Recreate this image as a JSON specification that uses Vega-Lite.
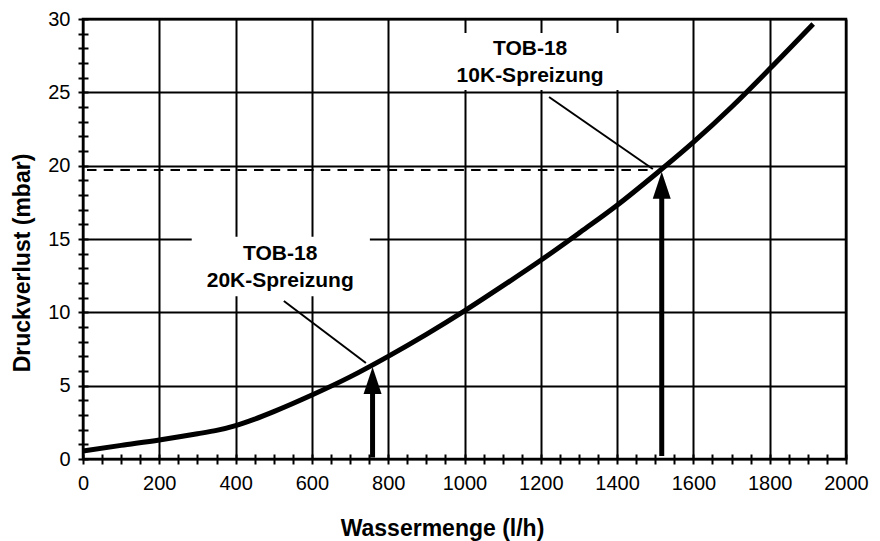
{
  "$schema": "https://vega.github.io/schema/vega-lite/v6.json",
  "width": 763,
  "height": 440,
  "autosize": "none",
  "padding": {"left": 83, "top": 19, "right": 34, "bottom": 82},
  "background": "white",
  "config": {
    "font": "Liberation Sans",
    "view": {"stroke": "black", "strokeWidth": 2.5}
  },
  "datasets": {
    "curve": [
      {"x": 0, "y": 0.55},
      {"x": 100, "y": 0.93},
      {"x": 200, "y": 1.3},
      {"x": 300, "y": 1.72},
      {"x": 350, "y": 1.95},
      {"x": 400, "y": 2.28},
      {"x": 450, "y": 2.72},
      {"x": 500, "y": 3.23},
      {"x": 600, "y": 4.36},
      {"x": 700, "y": 5.6},
      {"x": 800, "y": 7.0},
      {"x": 900, "y": 8.5},
      {"x": 1000, "y": 10.1},
      {"x": 1100, "y": 11.8},
      {"x": 1200, "y": 13.55},
      {"x": 1300, "y": 15.4},
      {"x": 1400, "y": 17.3},
      {"x": 1500, "y": 19.4},
      {"x": 1600, "y": 21.6},
      {"x": 1700, "y": 24.0},
      {"x": 1800, "y": 26.6},
      {"x": 1914, "y": 29.66}
    ],
    "ref": [{"x": 0, "x2": 1494, "y": 19.7}],
    "boxes": [
      {"x": 285, "x2": 752, "y": 11.1, "y2": 15.15},
      {"x": 938, "x2": 1410, "y": 25.16, "y2": 29.05}
    ],
    "labels": [
      {"t": "TOB-18", "x": 517, "y": 13.57},
      {"t": "20K-Spreizung", "x": 517, "y": 11.75},
      {"t": "TOB-18", "x": 1172, "y": 27.55},
      {"t": "10K-Spreizung", "x": 1172, "y": 25.7}
    ],
    "leaders": [
      {"x": 526.5, "y": 10.77, "x2": 741.6, "y2": 6.55},
      {"x": 1221.6, "y": 24.68, "x2": 1493.7, "y2": 19.77}
    ],
    "shafts": [
      {"x": 759, "y": 0.1, "y2": 5.0},
      {"x": 1517, "y": 0.2, "y2": 18.3}
    ],
    "heads": [
      {"x": 759, "y": 6.27},
      {"x": 1517, "y": 19.59}
    ]
  },
  "encoding": {
    "x": {
      "field": "x", "type": "quantitative",
      "scale": {"domain": [0, 2000], "nice": false},
      "axis": {
        "title": "Wassermenge (l/h)",
        "values": [0,50,100,150,200,250,300,350,400,450,500,550,600,650,700,750,800,850,900,950,1000,1050,1100,1150,1200,1250,1300,1350,1400,1450,1500,1550,1600,1650,1700,1750,1800,1850,1900,1950,2000],
        "format": "d",
        "labelExpr": "datum.value % 200 === 0 ? datum.label : ''",
        "domain": false,
        "offset": -5,
        "tickSize": 10,
        "tickColor": "black",
        "tickWidth": 2,
        "labelPadding": 9,
        "labelFontSize": 20,
        "labelColor": "black",
        "labelFlush": false,
        "labelOverlap": false,
        "labelBound": false,
        "grid": true,
        "gridColor": "black",
        "gridWidth": 2,
        "gridOpacity": {"condition": {"test": "datum.value % 200 === 0", "value": 1}, "value": 0},
        "titleFontSize": 23,
        "titleFontWeight": "bold",
        "titleColor": "black",
        "titleX": 359,
        "titleY": 81,
        "titleBaseline": "alphabetic",
        "titleAlign": "center"
      }
    },
    "y": {
      "field": "y", "type": "quantitative",
      "scale": {"domain": [0, 30], "nice": false},
      "axis": {
        "title": "Druckverlust (mbar)",
        "values": [0,1,2,3,4,5,6,7,8,9,10,11,12,13,14,15,16,17,18,19,20,21,22,23,24,25,26,27,28,29,30],
        "format": "d",
        "labelExpr": "datum.value % 5 === 0 ? datum.label : ''",
        "domain": false,
        "offset": -5,
        "tickSize": 10,
        "tickColor": "black",
        "tickWidth": 2,
        "labelPadding": 8,
        "labelFontSize": 20,
        "labelColor": "black",
        "labelFlush": false,
        "labelOverlap": false,
        "labelBound": false,
        "grid": true,
        "gridColor": "black",
        "gridWidth": 2,
        "gridOpacity": {"condition": {"test": "datum.value % 5 === 0", "value": 1}, "value": 0},
        "titleFontSize": 23,
        "titleFontWeight": "bold",
        "titleColor": "black",
        "titleX": -59,
        "titleY": 243.5,
        "titleBaseline": "alphabetic",
        "titleAlign": "center"
      }
    }
  },
  "layer": [
    {
      "data": {"name": "curve"},
      "mark": {"type": "line", "color": "black", "strokeWidth": 5, "interpolate": "monotone", "strokeCap": "butt"}
    },
    {
      "data": {"name": "ref"},
      "mark": {"type": "rule", "color": "black", "strokeWidth": 2, "strokeDash": [9.5, 7.2], "strokeDashOffset": 12.7},
      "encoding": {"x2": {"field": "x2"}}
    },
    {
      "data": {"name": "boxes"},
      "mark": {"type": "rect", "fill": "white", "strokeWidth": 0},
      "encoding": {"x2": {"field": "x2"}, "y2": {"field": "y2"}}
    },
    {
      "data": {"name": "labels"},
      "mark": {"type": "text", "fontSize": 21, "fontWeight": "bold", "align": "center", "baseline": "alphabetic", "color": "black"},
      "encoding": {"text": {"field": "t"}}
    },
    {
      "data": {"name": "leaders"},
      "mark": {"type": "rule", "color": "black", "strokeWidth": 2},
      "encoding": {"x2": {"field": "x2"}, "y2": {"field": "y2"}}
    },
    {
      "data": {"name": "shafts"},
      "mark": {"type": "rule", "color": "black", "strokeWidth": 5, "strokeCap": "butt"},
      "encoding": {"y2": {"field": "y2"}}
    },
    {
      "data": {"name": "heads"},
      "mark": {"type": "point", "shape": "M0,0 L1,3 L-1,3 Z", "size": 324, "filled": true, "color": "black", "opacity": 1, "strokeWidth": 0}
    }
  ]
}
